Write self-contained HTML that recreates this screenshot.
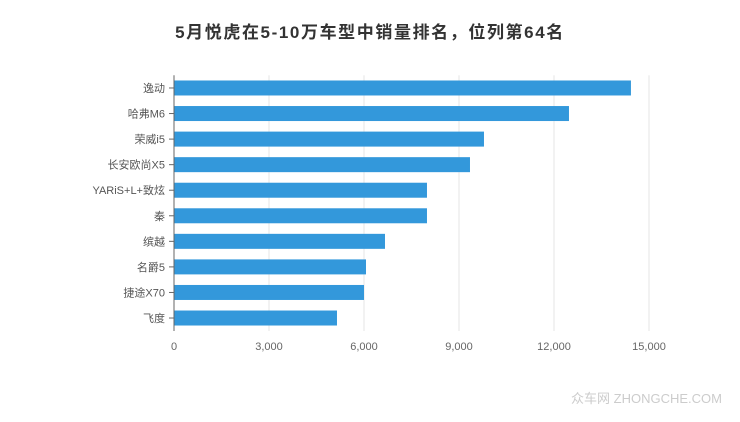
<!DOCTYPE html>
<html><head><meta charset="utf-8"><style>
body{margin:0;background:#fff;width:740px;height:417px;overflow:hidden;font-family:"Liberation Sans","Noto Sans CJK SC",sans-serif}
</style></head><body>
<svg width="740" height="417">
<text x="370" y="38" text-anchor="middle" font-size="17" font-weight="bold" fill="#333" letter-spacing="1.6" font-family="Liberation Sans, Noto Sans CJK SC, sans-serif">5月悦虎在5-10万车型中销量排名，位列第64名</text>
<g id="grid"></g><g id="bars"></g><g id="axes"></g>
<text x="722" y="403" text-anchor="end" font-size="13" fill="#ccc" font-family="Liberation Sans, Noto Sans CJK SC, sans-serif">众车网 ZHONGCHE.COM</text>
</svg>
<script>
const categories=["逸动","哈弗M6","荣威i5","长安欧尚X5","YARiS+L+致炫","秦","缤越","名爵5","捷途X70","飞度"];
const values=[14430,12473,9789,9347,7989,7989,6663,6063,6000,5147];
const ticks=[0,3000,6000,9000,12000,15000];
const tickLabels=["0","3,000","6,000","9,000","12,000","15,000"];
const NS="http://www.w3.org/2000/svg";
const x0=174,pxPer=95/3000,plotTop=75.2,band=25.56,bh=15;
const xs=v=>x0+v*pxPer;
function mk(t,a,p){const e=document.createElementNS(NS,t);for(const k in a)e.setAttribute(k,a[k]);p.appendChild(e);return e;}
const g=document.getElementById('grid'),b=document.getElementById('bars'),ax=document.getElementById('axes');
ticks.forEach((t,i)=>{
 if(i>0){const l=mk('line',{x1:xs(t),x2:xs(t),y1:plotTop,y2:331,stroke:'#e6e6e6'},g);
 
 }
 const tx=mk('text',{x:xs(t),y:350,'text-anchor':'middle','font-size':11,fill:'#666'},ax);
 tx.textContent=tickLabels[i];
 
 
});
categories.forEach((c,i)=>{
 const cy=plotTop+band*(i+0.5);
 const r=mk('rect',{x:x0,y:cy-bh/2,width:xs(values[i])-x0,height:bh,fill:'#3398db'},b);
 
 
 mk('line',{x1:x0-5,x2:x0,y1:cy,y2:cy,stroke:'#666'},ax);
 const t=mk('text',{x:x0-9,y:cy+4,'text-anchor':'end','font-size':11,fill:'#555'},ax);
 t.textContent=c;
 
 
});
const axl=mk('line',{x1:x0,x2:x0,y1:plotTop,y2:331,stroke:'#666'},ax);


</script>
</body></html>
